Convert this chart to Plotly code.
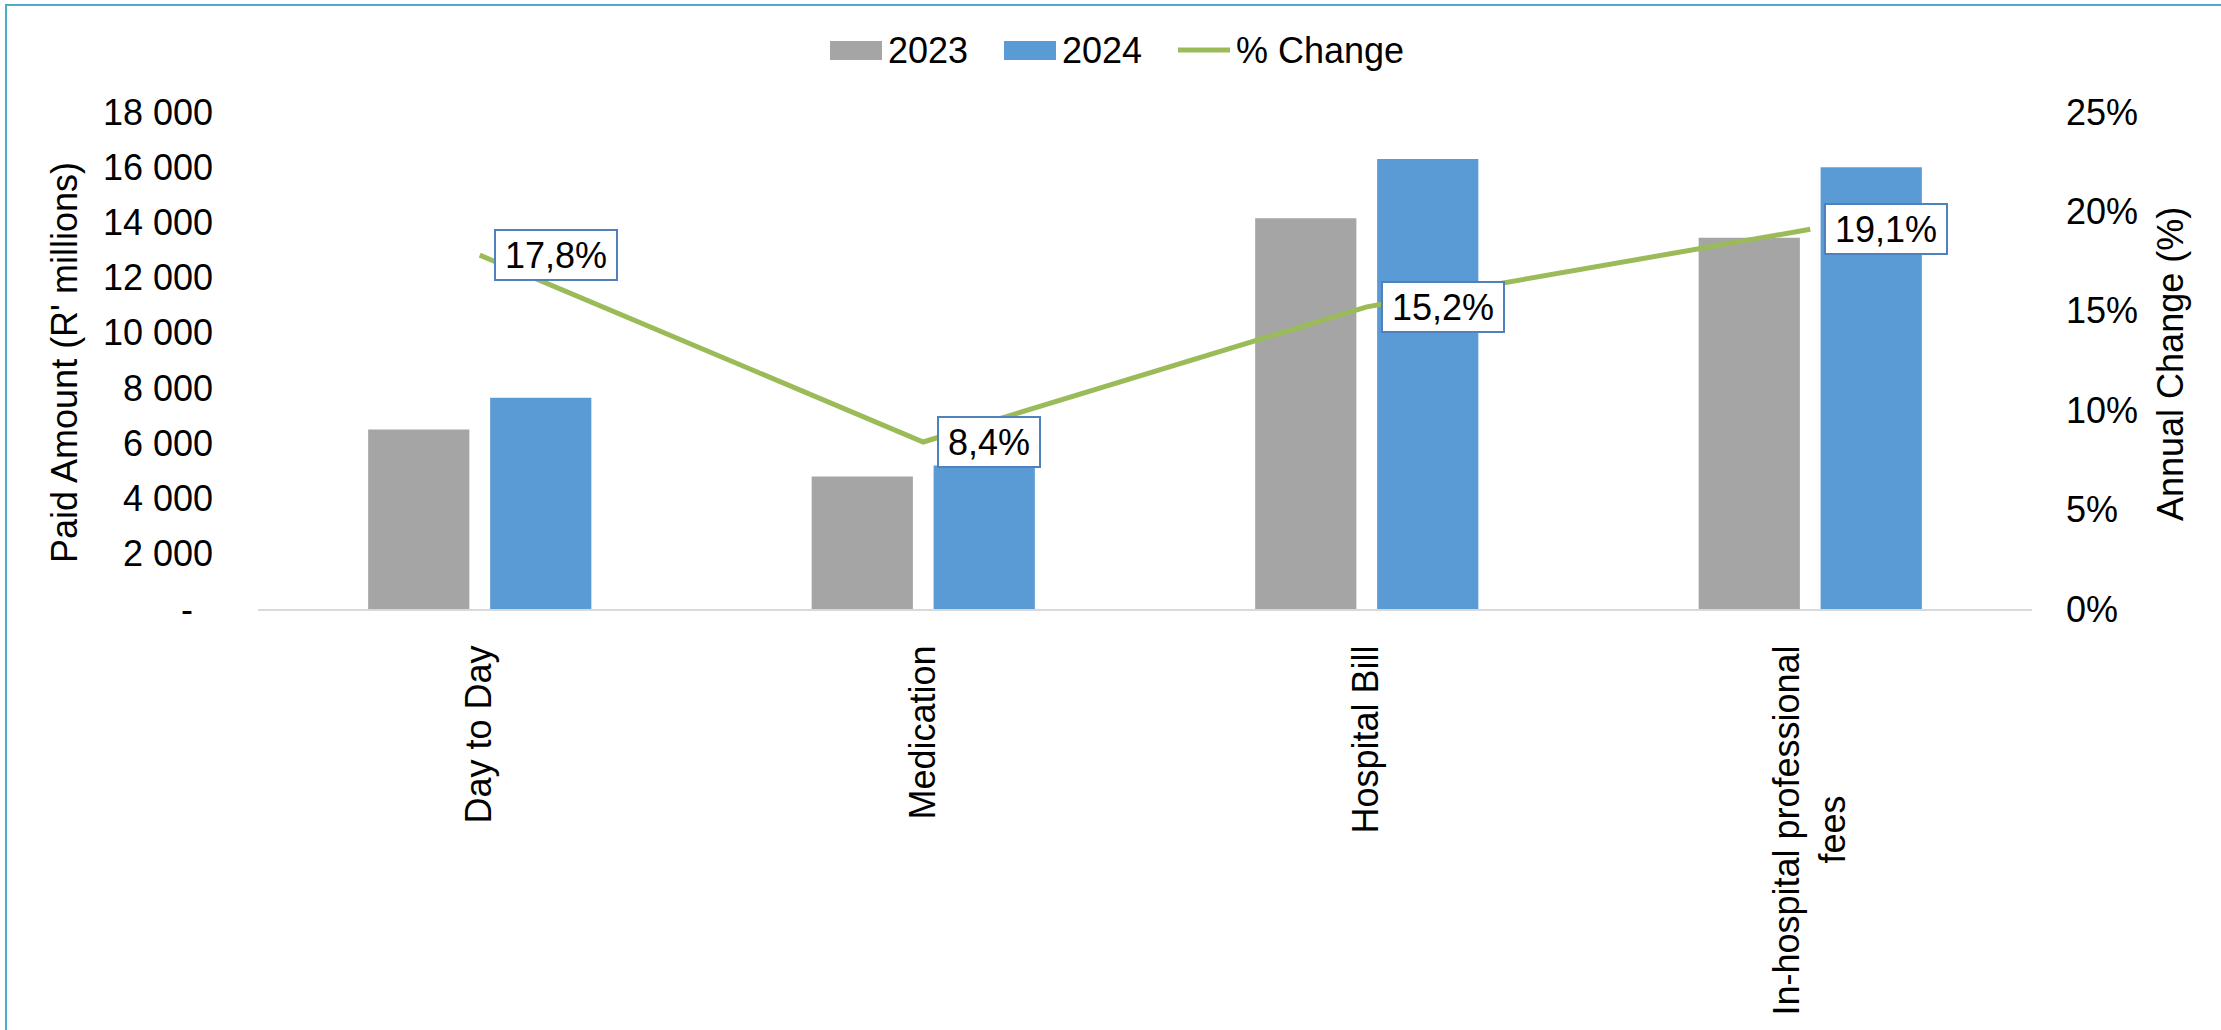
import plotly.graph_objects as go

# ---- data -------------------------------------------------------------
categories = ["Day to Day", "Medication", "Hospital Bill", "In-hospital professional fees"]
category_labels = [
    "Day to Day",
    "Medication",
    "Hospital Bill",
    "In-hospital professional<br>fees" + "\u00a0" * 15,
]
paid_2023 = [6500, 4800, 14150, 13450]
paid_2024 = [7650, 5200, 16300, 16000]
pct_change = [0.178, 0.084, 0.152, 0.191]

left_tickvals = [0, 2000, 4000, 6000, 8000, 10000, 12000, 14000, 16000, 18000]
left_ticktext = ["-\u00a0\u00a0", "2 000", "4 000", "6 000", "8 000", "10 000",
                 "12 000", "14 000", "16 000", "18 000"]
right_tickvals = [0, 0.05, 0.10, 0.15, 0.20, 0.25]

# ---- styling ----------------------------------------------------------
FONT = "Liberation Sans, Arial, sans-serif"
FS = 36
GREY = "#A5A5A5"
BLUE = "#5B9BD5"
GREEN = "#9BBB59"
FRAME = "#4BACC6"
LABEL_BORDER = "#4F81BD"

W, H = 2221, 1030
L, R, T, B = 258, 2032, 112, 609


def px(x):
    return (x - L) / (R - L)


def py(y):
    return (B - y) / (B - T)


# approximate Arial advance widths (em) for the label characters
ADV = {"%": 0.889, ",": 0.278}


def text_width(s):
    return sum(ADV.get(c, 0.556) for c in s) * FS


fig = go.Figure()
fig.add_trace(go.Bar(x=categories, y=paid_2023, name="2023",
                     marker=dict(color=GREY, line=dict(width=0)), showlegend=False))
fig.add_trace(go.Bar(x=categories, y=paid_2024, name="2024",
                     marker=dict(color=BLUE, line=dict(width=0)), showlegend=False))
fig.add_trace(go.Scatter(x=categories, y=pct_change, name="% Change", yaxis="y2",
                         mode="lines", line=dict(color=GREEN, width=5),
                         showlegend=False))

annotations = []
# boxed percentage labels to the right of each point on the line
for cat, v in zip(categories, pct_change):
    label = f"{v * 100:.1f}%".replace(".", ",")
    annotations.append(dict(
        x=cat, y=v, xref="x", yref="y2", text=label, showarrow=False,
        xanchor="left", yanchor="middle", xshift=14,
        font=dict(family=FONT, size=FS, color="#000000"),
        bgcolor="#FFFFFF", bordercolor=LABEL_BORDER, borderwidth=2, borderpad=2,
        width=text_width(label) + 14, height=44,
    ))

# axis titles
annotations.append(dict(x=px(64), y=py(363), xref="paper", yref="paper",
                        text="Paid Amount (R' millions)", textangle=-90, showarrow=False,
                        xanchor="center", yanchor="middle",
                        font=dict(family=FONT, size=FS, color="#000000")))
annotations.append(dict(x=px(2170), y=py(364), xref="paper", yref="paper",
                        text="Annual Change (%)", textangle=-90, showarrow=False,
                        xanchor="center", yanchor="middle",
                        font=dict(family=FONT, size=FS, color="#000000")))

# legend across the top
shapes = []
legend_items = [("2023", "bar", GREY, 830), ("2024", "bar", BLUE, 1004),
                ("% Change", "line", GREEN, 1178)]
for name, kind, color, x0 in legend_items:
    if kind == "bar":
        shapes.append(dict(type="rect", xref="paper", yref="paper",
                           x0=px(x0), x1=px(x0 + 52), y0=py(60), y1=py(41),
                           fillcolor=color, line=dict(width=0)))
    else:
        shapes.append(dict(type="line", xref="paper", yref="paper",
                           x0=px(x0), x1=px(x0 + 52), y0=py(50), y1=py(50),
                           line=dict(color=color, width=5)))
    annotations.append(dict(x=px(x0 + 56), y=py(50), xref="paper", yref="paper",
                            text=name, showarrow=False, xanchor="left", yanchor="middle",
                            font=dict(family=FONT, size=FS, color="#000000")))

# outer frame (top and left edges)
shapes.append(dict(type="line", xref="paper", yref="paper",
                   x0=px(5), x1=px(W + 20), y0=py(5), y1=py(5),
                   line=dict(color=FRAME, width=2)))
shapes.append(dict(type="line", xref="paper", yref="paper",
                   x0=px(6), x1=px(6), y0=py(5), y1=py(H + 20),
                   line=dict(color=FRAME, width=2)))

fig.update_layout(
    width=W, height=H, autosize=False,
    margin=dict(l=L, r=W - R, t=T, b=H - B, pad=0),
    paper_bgcolor="#FFFFFF", plot_bgcolor="#FFFFFF",
    font=dict(family=FONT, size=FS, color="#000000"),
    barmode="group", bargap=0.45, bargroupgap=0.17,
    showlegend=False,
    annotations=annotations, shapes=shapes,
    xaxis=dict(
        tickmode="array", tickvals=categories, ticktext=category_labels,
        tickangle=-90, showline=True, linecolor="#D9D9D9", linewidth=2,
        showgrid=False, zeroline=False, ticks="", automargin=False,
        ticklabelstandoff=20, tickfont=dict(family=FONT, size=FS, color="#000000"),
    ),
    yaxis=dict(
        range=[0, 18000], tickmode="array", tickvals=left_tickvals,
        ticktext=left_ticktext, showgrid=False, zeroline=False, showline=False,
        ticks="", automargin=False, ticklabelstandoff=44,
        tickfont=dict(family=FONT, size=FS, color="#000000"),
    ),
    yaxis2=dict(
        range=[0, 0.25], overlaying="y", side="right", tickmode="array",
        tickvals=right_tickvals, tickformat=".0%", showgrid=False, zeroline=False,
        showline=False, ticks="", automargin=False, ticklabelstandoff=33,
        tickfont=dict(family=FONT, size=FS, color="#000000"),
    ),
)

fig.write_html("out.html")
